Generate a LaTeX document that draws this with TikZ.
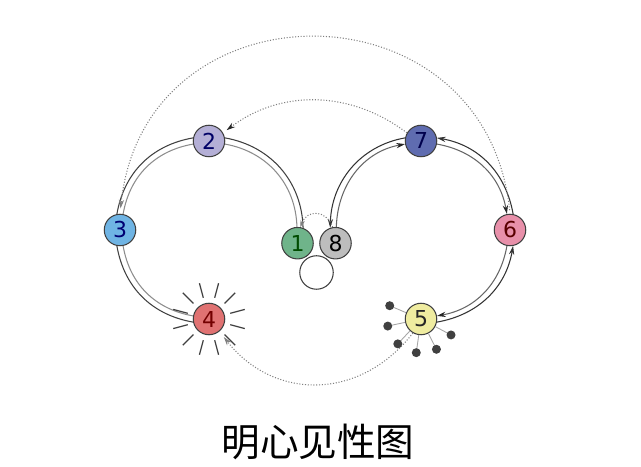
\documentclass[tikz,border=0pt]{standalone}
\usepackage{fontspec}
\setmainfont{DejaVu Sans}
\newfontfamily\cjkfont{Noto Sans CJK SC}
\usetikzlibrary{arrows.meta,calc}
\definecolor{cOne}  {RGB}{111,180,138}
\definecolor{cTwo}  {RGB}{180,175,214}
\definecolor{cThree}{RGB}{111,180,228}
\definecolor{cFour} {RGB}{224,114,114}
\definecolor{cFive} {RGB}{239,236,160}
\definecolor{cSix}  {RGB}{232,144,170}
\definecolor{cSeven}{RGB}{ 95,108,176}
\definecolor{cEight}{RGB}{189,189,189}

\begin{document}
\begin{tikzpicture}[
  x=0.02cm,y=0.02cm,
  orb/.style={circle,draw=black!75,line width=0.6pt,minimum size=0.63cm,inner sep=0pt,
              font=\fontsize{12.5}{12.5}\selectfont},
  rimout/.style={line width=0.6pt,black!75},
  rimin/.style={line width=0.6pt,black!45},
  flowout/.style={line width=0.6pt,black!80,-{Stealth[length=5pt,width=3pt]}},
  flowin/.style={line width=0.6pt,black!60,-{Stealth[length=5pt,width=3pt,color=black!85]}},
  hint/.style={gray,densely dotted,line width=0.6pt},
  hintg/.style={hint,-{Stealth[length=5pt,width=3pt,color=gray]}},
  hintk/.style={hint,-{Stealth[length=5pt,width=3pt,color=black!85]}},
  ray/.style={black!75,line width=0.7pt},
  spoke/.style={gray!70,line width=0.5pt},
  bead/.style={black!75},
]
\useasboundingbox (0,0) rectangle (641,466);
\coordinate (L) at (209,236);
\coordinate (R) at (421,236);

\node[orb,fill=cOne,text=green!30!black]   (n1) at (297.5,222.8) {1};
\node[orb,fill=cTwo,text=blue!40!black]    (n2) at ($(L)+(90:89)$)  {2};
\node[orb,fill=cThree,text=blue!45!black]  (n3) at ($(L)+(180:89)$) {3};
\node[orb,fill=cFour,text=red!45!black]    (n4) at ($(L)+(270:89)$) {4};
\node[orb,fill=cFive,text=black!85]        (n5) at ($(R)+(270:89)$) {5};
\node[orb,fill=cSix,text=red!35!black]     (n6) at ($(R)+(0:89)$)   {6};
\node[orb,fill=cSeven,text=blue!30!black]  (n7) at ($(R)+(90:89)$)  {7};
\node[orb,fill=cEight,text=black]          (n8) at (335.5,222.8) {8};
\node[orb,fill=white,minimum size=0.67cm]  (n0) at (316.5,193.5) {};

% left ring
\draw[rimout] (n1.70.5) to[out=91.5,in=-10] (n2.11);
\draw[rimin]  (n1.92.5) to[out=91.5,in=-10] (n2.-11);
\draw[rimout] (n2.169) to[out=190,in=80] (n3.101);
\draw[rimin]  (n2.191) to[out=190,in=80] (n3.79);
\draw[rimout] (n3.259) to[out=280,in=170] (n4.191);
\draw[rimin]  (n3.281) to[out=280,in=170] (n4.169);

% right ring
\draw[flowout] (n7.169) to[out=190,in=88.5] (n8.109.5);
\draw[flowin]  (n8.87.5) to[out=88.5,in=190] (n7.191);
\draw[flowout] (n6.79) to[out=100,in=-10] (n7.11);
\draw[flowin]  (n7.-11) to[out=-10,in=100] (n6.101);
\draw[flowout] (n5.-11) to[out=10,in=-100] (n6.-79);
\draw[flowin]  (n6.-101) to[out=-100,in=10] (n5.11);

% dotted returns
\draw[hintg,shorten <=2pt,shorten >=3pt] (n6.north) to[out=96,in=84,looseness=1.55] (n3.north);
\draw[hintk,shorten >=2.5pt] (n7.150) to[out=143,in=37] (n2.30);
\draw[hint,-{Stealth[length=4pt,width=2.6pt,color=gray]}]
  (n8.100) to[out=110,in=70,looseness=1.5] (n1.80);
\draw[hintg,shorten >=4pt] (n5.-120) to[out=-128,in=-52,looseness=1.15] (n4.-50);

% glow of 4, beads of 5
\foreach \a in {15,45,...,345}
  \draw[ray] ($(n4)+(\a:22)$) -- ($(n4)+(\a:37)$);
\foreach \a in {157,192,227,262,297,332} {
  \draw[spoke] (n5.\a) -- ($(n5)+(\a:34)$);
  \fill[bead] ($(n5)+(\a:34)$) circle (4.5);
}

\node[font=\cjkfont\fontsize{22}{22}\selectfont] (title) at (318,24) {明心见性图};
\end{tikzpicture}
\end{document}
